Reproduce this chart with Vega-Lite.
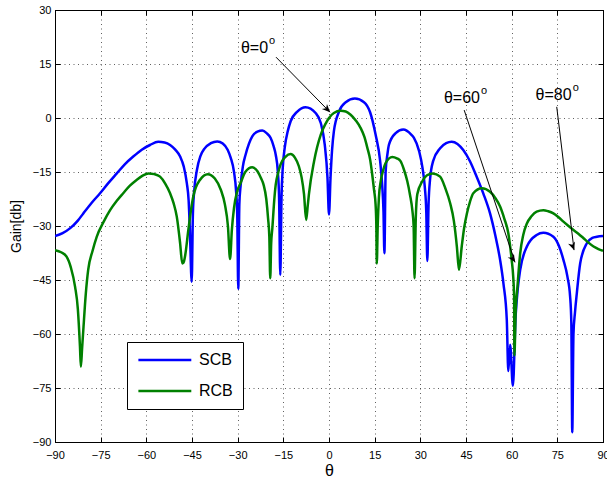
{
  "$schema": "https://vega.github.io/schema/vega-lite/v6.json",
  "width": 548,
  "height": 432,
  "autosize": {"type": "none"},
  "padding": {"left": 55, "top": 10, "right": 4, "bottom": 35},
  "background": "white",
  "config": {
    "view": {"stroke": "black", "strokeWidth": 1},
    "font": "Liberation Sans",
    "axis": {
      "labelFont": "Liberation Sans",
      "labelFontSize": 11,
      "labelColor": "black",
      "tickColor": "black",
      "domainColor": "black",
      "tickSize": -5,
      "labelFlush": false,
      "labelOverlap": false,
      "labelBound": false,
      "titleFont": "Liberation Sans",
      "titleFontWeight": "normal",
      "titleColor": "black",
      "gridColor": "#222222",
      "gridDash": [1, 3.5],
      "gridWidth": 0.8,
      "gridOpacity": 0.9
    }
  },
  "datasets": {
    "curves": [
      {"beam": "SCB", "theta": -90, "gain": -32.8},
      {"beam": "SCB", "theta": -87.5, "gain": -32.0},
      {"beam": "SCB", "theta": -85, "gain": -30.6},
      {"beam": "SCB", "theta": -82.5, "gain": -28.5},
      {"beam": "SCB", "theta": -80.7, "gain": -26.5},
      {"beam": "SCB", "theta": -78, "gain": -23.6},
      {"beam": "SCB", "theta": -75.2, "gain": -20.9},
      {"beam": "SCB", "theta": -72.5, "gain": -18.1},
      {"beam": "SCB", "theta": -69.7, "gain": -15.4},
      {"beam": "SCB", "theta": -67, "gain": -12.8},
      {"beam": "SCB", "theta": -64.3, "gain": -10.7},
      {"beam": "SCB", "theta": -61.5, "gain": -8.8},
      {"beam": "SCB", "theta": -58.8, "gain": -7.5},
      {"beam": "SCB", "theta": -56.1, "gain": -6.6},
      {"beam": "SCB", "theta": -54, "gain": -6.8},
      {"beam": "SCB", "theta": -52.2, "gain": -7.5},
      {"beam": "SCB", "theta": -50.5, "gain": -8.8},
      {"beam": "SCB", "theta": -48.9, "gain": -10.7},
      {"beam": "SCB", "theta": -47.7, "gain": -13.5},
      {"beam": "SCB", "theta": -46.7, "gain": -18.1},
      {"beam": "SCB", "theta": -46.1, "gain": -23},
      {"beam": "SCB", "theta": -45.7, "gain": -31.1},
      {"beam": "SCB", "theta": -45.1, "gain": -45.5},
      {"beam": "SCB", "theta": -44.7, "gain": -26.5},
      {"beam": "SCB", "theta": -44.3, "gain": -20.5},
      {"beam": "SCB", "theta": -43.4, "gain": -14.5},
      {"beam": "SCB", "theta": -42.2, "gain": -10.5},
      {"beam": "SCB", "theta": -40.9, "gain": -8.5},
      {"beam": "SCB", "theta": -38.8, "gain": -7.0},
      {"beam": "SCB", "theta": -36.7, "gain": -6.5},
      {"beam": "SCB", "theta": -34.9, "gain": -7.1},
      {"beam": "SCB", "theta": -33.3, "gain": -8.8},
      {"beam": "SCB", "theta": -32.3, "gain": -11},
      {"beam": "SCB", "theta": -31.2, "gain": -15},
      {"beam": "SCB", "theta": -30.5, "gain": -20.5},
      {"beam": "SCB", "theta": -30.15, "gain": -26.5},
      {"beam": "SCB", "theta": -29.8, "gain": -47.5},
      {"beam": "SCB", "theta": -29.45, "gain": -24},
      {"beam": "SCB", "theta": -29.0, "gain": -18.5},
      {"beam": "SCB", "theta": -28.3, "gain": -13.5},
      {"beam": "SCB", "theta": -27.4, "gain": -10.2},
      {"beam": "SCB", "theta": -25.2, "gain": -5.1},
      {"beam": "SCB", "theta": -23.5, "gain": -3.8},
      {"beam": "SCB", "theta": -21.9, "gain": -3.5},
      {"beam": "SCB", "theta": -20.5, "gain": -4.2},
      {"beam": "SCB", "theta": -19.2, "gain": -5.5},
      {"beam": "SCB", "theta": -18.2, "gain": -7.8},
      {"beam": "SCB", "theta": -17.5, "gain": -10.2},
      {"beam": "SCB", "theta": -16.8, "gain": -15},
      {"beam": "SCB", "theta": -16.4, "gain": -22},
      {"beam": "SCB", "theta": -16.0, "gain": -43.6},
      {"beam": "SCB", "theta": -15.6, "gain": -22},
      {"beam": "SCB", "theta": -15.2, "gain": -14},
      {"beam": "SCB", "theta": -14.5, "gain": -8},
      {"beam": "SCB", "theta": -13.5, "gain": -3.5},
      {"beam": "SCB", "theta": -12.6, "gain": -0.9},
      {"beam": "SCB", "theta": -10.4, "gain": 1.8},
      {"beam": "SCB", "theta": -7.7, "gain": 3.0},
      {"beam": "SCB", "theta": -4.4, "gain": 1.4},
      {"beam": "SCB", "theta": -2.7, "gain": -1.4},
      {"beam": "SCB", "theta": -1.4, "gain": -7.4},
      {"beam": "SCB", "theta": -0.5, "gain": -16.6},
      {"beam": "SCB", "theta": 0, "gain": -26.8},
      {"beam": "SCB", "theta": 0.5, "gain": -16.6},
      {"beam": "SCB", "theta": 1.0, "gain": -9},
      {"beam": "SCB", "theta": 1.6, "gain": -3.7},
      {"beam": "SCB", "theta": 3.3, "gain": 1.8},
      {"beam": "SCB", "theta": 5.5, "gain": 4.4},
      {"beam": "SCB", "theta": 8.5, "gain": 5.4},
      {"beam": "SCB", "theta": 11.5, "gain": 4.4},
      {"beam": "SCB", "theta": 13.5, "gain": 1.6},
      {"beam": "SCB", "theta": 15.3, "gain": -4.6},
      {"beam": "SCB", "theta": 16.8, "gain": -12},
      {"beam": "SCB", "theta": 17.5, "gain": -19},
      {"beam": "SCB", "theta": 17.9, "gain": -26},
      {"beam": "SCB", "theta": 18.2, "gain": -37.6},
      {"beam": "SCB", "theta": 18.6, "gain": -15},
      {"beam": "SCB", "theta": 19.2, "gain": -10},
      {"beam": "SCB", "theta": 19.7, "gain": -7.4},
      {"beam": "SCB", "theta": 21.9, "gain": -4.2},
      {"beam": "SCB", "theta": 24.4, "gain": -3.2},
      {"beam": "SCB", "theta": 27.0, "gain": -4.6},
      {"beam": "SCB", "theta": 27.9, "gain": -5.5},
      {"beam": "SCB", "theta": 29.6, "gain": -9.2},
      {"beam": "SCB", "theta": 30.7, "gain": -13.8},
      {"beam": "SCB", "theta": 31.5, "gain": -19.5},
      {"beam": "SCB", "theta": 31.95, "gain": -26},
      {"beam": "SCB", "theta": 32.3, "gain": -39.7},
      {"beam": "SCB", "theta": 32.7, "gain": -24},
      {"beam": "SCB", "theta": 33.2, "gain": -17},
      {"beam": "SCB", "theta": 34.2, "gain": -12},
      {"beam": "SCB", "theta": 36.5, "gain": -8.4},
      {"beam": "SCB", "theta": 38.5, "gain": -7},
      {"beam": "SCB", "theta": 40.3, "gain": -6.6},
      {"beam": "SCB", "theta": 42.2, "gain": -7.2},
      {"beam": "SCB", "theta": 44.1, "gain": -8.9},
      {"beam": "SCB", "theta": 46.3, "gain": -12},
      {"beam": "SCB", "theta": 48.5, "gain": -16.3},
      {"beam": "SCB", "theta": 50.7, "gain": -21},
      {"beam": "SCB", "theta": 52.9, "gain": -26.5},
      {"beam": "SCB", "theta": 54.6, "gain": -32.5},
      {"beam": "SCB", "theta": 56.2, "gain": -39.4},
      {"beam": "SCB", "theta": 57.3, "gain": -46},
      {"beam": "SCB", "theta": 58.4, "gain": -56.1},
      {"beam": "SCB", "theta": 58.9, "gain": -70.3},
      {"beam": "SCB", "theta": 59.5, "gain": -63},
      {"beam": "SCB", "theta": 60.4, "gain": -74.4},
      {"beam": "SCB", "theta": 61.3, "gain": -55},
      {"beam": "SCB", "theta": 62.0, "gain": -47.5},
      {"beam": "SCB", "theta": 62.8, "gain": -42.2},
      {"beam": "SCB", "theta": 65, "gain": -35.7},
      {"beam": "SCB", "theta": 68.2, "gain": -32.5},
      {"beam": "SCB", "theta": 70.4, "gain": -31.9},
      {"beam": "SCB", "theta": 73.7, "gain": -33},
      {"beam": "SCB", "theta": 75.5, "gain": -35.5},
      {"beam": "SCB", "theta": 77, "gain": -39.4},
      {"beam": "SCB", "theta": 78.3, "gain": -44},
      {"beam": "SCB", "theta": 79.2, "gain": -49.6},
      {"beam": "SCB", "theta": 79.6, "gain": -57},
      {"beam": "SCB", "theta": 79.9, "gain": -87.3},
      {"beam": "SCB", "theta": 80.3, "gain": -60},
      {"beam": "SCB", "theta": 80.8, "gain": -54},
      {"beam": "SCB", "theta": 81.4, "gain": -48.7},
      {"beam": "SCB", "theta": 82.5, "gain": -40.4},
      {"beam": "SCB", "theta": 84.7, "gain": -34.8},
      {"beam": "SCB", "theta": 86.5, "gain": -33.3},
      {"beam": "SCB", "theta": 88, "gain": -33},
      {"beam": "SCB", "theta": 90, "gain": -32.8},

      {"beam": "RCB", "theta": -90, "gain": -36.7},
      {"beam": "RCB", "theta": -88, "gain": -37.3},
      {"beam": "RCB", "theta": -86.2, "gain": -38.5},
      {"beam": "RCB", "theta": -84.8, "gain": -41.5},
      {"beam": "RCB", "theta": -83.4, "gain": -46.9},
      {"beam": "RCB", "theta": -82.5, "gain": -53},
      {"beam": "RCB", "theta": -81.8, "gain": -63.5},
      {"beam": "RCB", "theta": -81.5, "gain": -69.1},
      {"beam": "RCB", "theta": -81.1, "gain": -64},
      {"beam": "RCB", "theta": -80.7, "gain": -58.9},
      {"beam": "RCB", "theta": -79.9, "gain": -49},
      {"beam": "RCB", "theta": -79.1, "gain": -42.2},
      {"beam": "RCB", "theta": -77.7, "gain": -37},
      {"beam": "RCB", "theta": -76.3, "gain": -33},
      {"beam": "RCB", "theta": -74, "gain": -28.8},
      {"beam": "RCB", "theta": -71.9, "gain": -25.6},
      {"beam": "RCB", "theta": -69.7, "gain": -23},
      {"beam": "RCB", "theta": -67.6, "gain": -20.9},
      {"beam": "RCB", "theta": -65.4, "gain": -18.8},
      {"beam": "RCB", "theta": -63.2, "gain": -17.2},
      {"beam": "RCB", "theta": -61.2, "gain": -16},
      {"beam": "RCB", "theta": -59.3, "gain": -15.4},
      {"beam": "RCB", "theta": -57.4, "gain": -15.6},
      {"beam": "RCB", "theta": -55.5, "gain": -16.3},
      {"beam": "RCB", "theta": -53.8, "gain": -18.2},
      {"beam": "RCB", "theta": -52.2, "gain": -20.9},
      {"beam": "RCB", "theta": -51.0, "gain": -23.8},
      {"beam": "RCB", "theta": -50, "gain": -27.4},
      {"beam": "RCB", "theta": -48.9, "gain": -34.8},
      {"beam": "RCB", "theta": -48.2, "gain": -40.4},
      {"beam": "RCB", "theta": -47.8, "gain": -40.2},
      {"beam": "RCB", "theta": -47.3, "gain": -38.5},
      {"beam": "RCB", "theta": -46.2, "gain": -31.1},
      {"beam": "RCB", "theta": -45.4, "gain": -26},
      {"beam": "RCB", "theta": -44.6, "gain": -21.9},
      {"beam": "RCB", "theta": -42.4, "gain": -17.2},
      {"beam": "RCB", "theta": -39.8, "gain": -15.6},
      {"beam": "RCB", "theta": -37.5, "gain": -16.8},
      {"beam": "RCB", "theta": -35.5, "gain": -20},
      {"beam": "RCB", "theta": -34.2, "gain": -24},
      {"beam": "RCB", "theta": -33.2, "gain": -30},
      {"beam": "RCB", "theta": -32.5, "gain": -39.2},
      {"beam": "RCB", "theta": -31.9, "gain": -31},
      {"beam": "RCB", "theta": -31.2, "gain": -25},
      {"beam": "RCB", "theta": -30.2, "gain": -20.5},
      {"beam": "RCB", "theta": -29, "gain": -18},
      {"beam": "RCB", "theta": -27.5, "gain": -15},
      {"beam": "RCB", "theta": -25.2, "gain": -13.7},
      {"beam": "RCB", "theta": -23.5, "gain": -14.8},
      {"beam": "RCB", "theta": -22.4, "gain": -16.6},
      {"beam": "RCB", "theta": -21.5, "gain": -18.5},
      {"beam": "RCB", "theta": -20.6, "gain": -22.5},
      {"beam": "RCB", "theta": -20.0, "gain": -28},
      {"beam": "RCB", "theta": -19.6, "gain": -33},
      {"beam": "RCB", "theta": -19.3, "gain": -44.5},
      {"beam": "RCB", "theta": -19.0, "gain": -35},
      {"beam": "RCB", "theta": -18.6, "gain": -30.5},
      {"beam": "RCB", "theta": -18.0, "gain": -23},
      {"beam": "RCB", "theta": -17.5, "gain": -18.5},
      {"beam": "RCB", "theta": -16.7, "gain": -15.2},
      {"beam": "RCB", "theta": -15.9, "gain": -12.9},
      {"beam": "RCB", "theta": -14.3, "gain": -10.8},
      {"beam": "RCB", "theta": -12.6, "gain": -10},
      {"beam": "RCB", "theta": -11.2, "gain": -11},
      {"beam": "RCB", "theta": -9.9, "gain": -13.4},
      {"beam": "RCB", "theta": -9.0, "gain": -16.5},
      {"beam": "RCB", "theta": -8.2, "gain": -21.2},
      {"beam": "RCB", "theta": -7.5, "gain": -28.3},
      {"beam": "RCB", "theta": -7.0, "gain": -24.5},
      {"beam": "RCB", "theta": -6.6, "gain": -21.2},
      {"beam": "RCB", "theta": -4.9, "gain": -12},
      {"beam": "RCB", "theta": -2.7, "gain": -4.6},
      {"beam": "RCB", "theta": -1.2, "gain": -1.7},
      {"beam": "RCB", "theta": 0, "gain": 0},
      {"beam": "RCB", "theta": 1.6, "gain": 1.4},
      {"beam": "RCB", "theta": 3.8, "gain": 2.0},
      {"beam": "RCB", "theta": 5.5, "gain": 1.8},
      {"beam": "RCB", "theta": 7.1, "gain": 0.9},
      {"beam": "RCB", "theta": 8.8, "gain": -0.7},
      {"beam": "RCB", "theta": 10.4, "gain": -2.8},
      {"beam": "RCB", "theta": 11.6, "gain": -5.2},
      {"beam": "RCB", "theta": 12.6, "gain": -8.3},
      {"beam": "RCB", "theta": 13.5, "gain": -11.5},
      {"beam": "RCB", "theta": 14.2, "gain": -15.7},
      {"beam": "RCB", "theta": 14.8, "gain": -20},
      {"beam": "RCB", "theta": 15.3, "gain": -24},
      {"beam": "RCB", "theta": 15.55, "gain": -30},
      {"beam": "RCB", "theta": 15.7, "gain": -40.4},
      {"beam": "RCB", "theta": 16.0, "gain": -30},
      {"beam": "RCB", "theta": 16.4, "gain": -22},
      {"beam": "RCB", "theta": 17.0, "gain": -17.5},
      {"beam": "RCB", "theta": 17.8, "gain": -14.5},
      {"beam": "RCB", "theta": 18.6, "gain": -12.5},
      {"beam": "RCB", "theta": 20.8, "gain": -10.8},
      {"beam": "RCB", "theta": 22.3, "gain": -11.2},
      {"beam": "RCB", "theta": 23.5, "gain": -12},
      {"beam": "RCB", "theta": 24.6, "gain": -14.3},
      {"beam": "RCB", "theta": 25.7, "gain": -17.5},
      {"beam": "RCB", "theta": 26.6, "gain": -21.3},
      {"beam": "RCB", "theta": 27.4, "gain": -25.8},
      {"beam": "RCB", "theta": 27.8, "gain": -30},
      {"beam": "RCB", "theta": 28.1, "gain": -44.5},
      {"beam": "RCB", "theta": 28.5, "gain": -28},
      {"beam": "RCB", "theta": 29.0, "gain": -21.2},
      {"beam": "RCB", "theta": 30.7, "gain": -17.5},
      {"beam": "RCB", "theta": 32.2, "gain": -15.9},
      {"beam": "RCB", "theta": 34.1, "gain": -15.4},
      {"beam": "RCB", "theta": 36.5, "gain": -16.3},
      {"beam": "RCB", "theta": 38.2, "gain": -19.5},
      {"beam": "RCB", "theta": 39.8, "gain": -23.7},
      {"beam": "RCB", "theta": 41.0, "gain": -28.5},
      {"beam": "RCB", "theta": 42.0, "gain": -35.7},
      {"beam": "RCB", "theta": 42.7, "gain": -42.2},
      {"beam": "RCB", "theta": 43.6, "gain": -35.7},
      {"beam": "RCB", "theta": 44.4, "gain": -30.5},
      {"beam": "RCB", "theta": 45.3, "gain": -26.5},
      {"beam": "RCB", "theta": 46.3, "gain": -23.3},
      {"beam": "RCB", "theta": 47.4, "gain": -20.9},
      {"beam": "RCB", "theta": 50.2, "gain": -19.5},
      {"beam": "RCB", "theta": 52.9, "gain": -20.5},
      {"beam": "RCB", "theta": 54.6, "gain": -22.2},
      {"beam": "RCB", "theta": 56.2, "gain": -24.6},
      {"beam": "RCB", "theta": 57.6, "gain": -28},
      {"beam": "RCB", "theta": 58.9, "gain": -32},
      {"beam": "RCB", "theta": 60.0, "gain": -39.4},
      {"beam": "RCB", "theta": 60.5, "gain": -44},
      {"beam": "RCB", "theta": 60.8, "gain": -49.6},
      {"beam": "RCB", "theta": 60.9, "gain": -66},
      {"beam": "RCB", "theta": 61.3, "gain": -54},
      {"beam": "RCB", "theta": 61.9, "gain": -46.9},
      {"beam": "RCB", "theta": 62.8, "gain": -37.6},
      {"beam": "RCB", "theta": 63.8, "gain": -32.5},
      {"beam": "RCB", "theta": 65, "gain": -29.3},
      {"beam": "RCB", "theta": 66.5, "gain": -27.3},
      {"beam": "RCB", "theta": 68.2, "gain": -26},
      {"beam": "RCB", "theta": 70.4, "gain": -25.6},
      {"beam": "RCB", "theta": 72, "gain": -25.9},
      {"beam": "RCB", "theta": 73.7, "gain": -26.5},
      {"beam": "RCB", "theta": 75.3, "gain": -27.5},
      {"beam": "RCB", "theta": 77, "gain": -28.8},
      {"beam": "RCB", "theta": 78.7, "gain": -30},
      {"beam": "RCB", "theta": 80.3, "gain": -31.1},
      {"beam": "RCB", "theta": 82, "gain": -32.2},
      {"beam": "RCB", "theta": 83.6, "gain": -33.4},
      {"beam": "RCB", "theta": 85.2, "gain": -34.6},
      {"beam": "RCB", "theta": 86.9, "gain": -35.7},
      {"beam": "RCB", "theta": 88.5, "gain": -36.4},
      {"beam": "RCB", "theta": 90, "gain": -36.9}
    ],
    "notes": [
      {"key": "a", "label": "θ=0", "tx": -20.0, "ty": 18.1, "sx": -17.4, "sy": 16.9, "ex": 0.34, "ey": 1.6},
      {"key": "b", "label": "θ=60", "tx": 49.6, "ty": 4.2, "sx": 44.4, "sy": 2.2, "ex": 61.1, "ey": -40.1},
      {"key": "c", "label": "θ=80", "tx": 79.7, "ty": 4.9, "sx": 74.8, "sy": 3.1, "ex": 80.5, "ey": -36.7}
    ]
  },
  "layer": [
    {
      "data": {"name": "curves"},
      "mark": {"type": "line", "interpolate": "monotone", "strokeWidth": 2.5, "clip": true},
      "encoding": {
        "x": {
          "field": "theta", "type": "quantitative",
          "scale": {"domain": [-90, 90], "nice": false, "zero": false},
          "axis": {"title": "θ", "titleFontSize": 16, "titlePadding": 2, "values": [-90, -75, -60, -45, -30, -15, 0, 15, 30, 45, 60, 75, 90], "grid": true, "labelPadding": 12}
        },
        "y": {
          "field": "gain", "type": "quantitative",
          "scale": {"domain": [-90, 30], "nice": false, "zero": false},
          "axis": {"title": "Gain[db]", "titleFontSize": 14, "titlePadding": 9, "values": [-90, -75, -60, -45, -30, -15, 0, 15, 30], "grid": true, "labelPadding": 9}
        },
        "color": {
          "field": "beam", "type": "nominal",
          "scale": {"domain": ["SCB", "RCB"], "range": ["#0000ff", "#008000"]},
          "legend": {
            "title": null,
            "orient": "none",
            "legendX": 72,
            "legendY": 332,
            "strokeColor": "black",
            "fillColor": "white",
            "padding": 10,
            "symbolType": "M-1,0L7,0",
            "symbolSize": 175,
            "symbolStrokeWidth": 2.5,
            "labelFont": "Liberation Sans",
            "labelFontSize": 16,
            "labelColor": "black",
            "labelOffset": 46,
            "rowPadding": 15
          }
        }
      }
    },
    {
      "data": {"name": "notes"},
      "mark": {"type": "rule", "color": "black", "strokeWidth": 1},
      "encoding": {
        "x": {
          "field": "sx", "type": "quantitative",
          "scale": {"domain": [-90, 90], "nice": false, "zero": false},
          "axis": {"orient": "top", "title": null, "labels": false, "grid": false, "values": [-90, -75, -60, -45, -30, -15, 0, 15, 30, 45, 60, 75, 90]}
        },
        "y": {
          "field": "sy", "type": "quantitative",
          "scale": {"domain": [-90, 30], "nice": false, "zero": false},
          "axis": {"orient": "right", "title": null, "labels": false, "grid": false, "values": [-90, -75, -60, -45, -30, -15, 0, 15, 30]}
        },
        "x2": {"field": "ex"},
        "y2": {"field": "ey"}
      }
    },
    {
      "data": {"name": "notes"},
      "mark": {"type": "point", "shape": "M0,0L-2,-0.9L-1.4,0L-2,0.9Z", "filled": true, "color": "black", "size": 64, "opacity": 1},
      "encoding": {
        "x": {"field": "ex", "type": "quantitative", "scale": {"domain": [-90, 90], "nice": false, "zero": false}, "axis": null},
        "y": {"field": "ey", "type": "quantitative", "scale": {"domain": [-90, 30], "nice": false, "zero": false}, "axis": null},
        "angle": {"field": "key", "type": "nominal", "scale": {"domain": ["a", "b", "c"], "range": [45.5, 71.5, 83.1]}, "legend": null}
      }
    },
    {
      "data": {"name": "notes"},
      "mark": {"type": "text", "align": "right", "baseline": "alphabetic", "fontSize": 16, "font": "Liberation Sans", "color": "black"},
      "encoding": {
        "x": {"field": "tx", "type": "quantitative", "scale": {"domain": [-90, 90], "nice": false, "zero": false}, "axis": null},
        "y": {"field": "ty", "type": "quantitative", "scale": {"domain": [-90, 30], "nice": false, "zero": false}, "axis": null},
        "text": {"field": "label"}
      }
    },
    {
      "data": {"name": "notes"},
      "mark": {"type": "text", "align": "left", "baseline": "alphabetic", "fontSize": 11, "font": "Liberation Sans", "color": "black", "dx": 1, "dy": -9, "text": "o"},
      "encoding": {
        "x": {"field": "tx", "type": "quantitative", "scale": {"domain": [-90, 90], "nice": false, "zero": false}, "axis": null},
        "y": {"field": "ty", "type": "quantitative", "scale": {"domain": [-90, 30], "nice": false, "zero": false}, "axis": null}
      }
    }
  ],
  "resolve": {"axis": {"x": "independent", "y": "independent"}}
}
